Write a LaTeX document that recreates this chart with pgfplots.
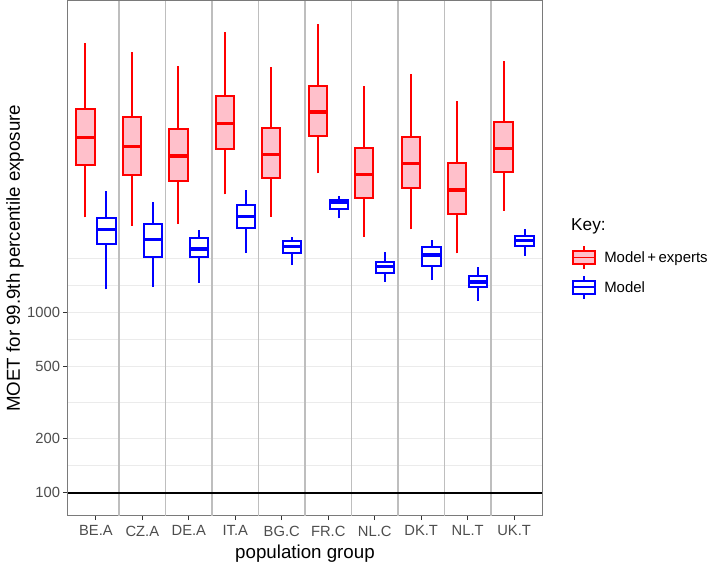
\documentclass[border=0pt]{standalone}
\usepackage{fontspec}
\setmainfont{Liberation Sans}
\usepackage{pgfplots}
\pgfplotsset{compat=1.18}
\definecolor{grey20}{HTML}{333333}
\definecolor{grey30}{HTML}{4D4D4D}
\definecolor{grey92}{HTML}{EBEBEB}
\definecolor{vgrey}{HTML}{BEBEBE}
\definecolor{border}{HTML}{7A7A7A}
\definecolor{pinkc}{HTML}{FFC0CB}
\pgfplotsset{
  whisk/.style={forget plot, line width=2bp, unbounded coords=jump, mark=none},
  rbox/.style={forget plot, draw=red, fill=pinkc, line width=2bp, mark=none, line join=miter},
  bbox/.style={forget plot, draw=blue, fill=white, line width=2bp, mark=none, line join=miter},
  med/.style={forget plot, line width=3.2bp, unbounded coords=jump, mark=none},
  keyglyph/.style={legend image code/.code={
     \draw[##1, line width=1.8bp] (0bp,-6.5bp) rectangle (22bp,6.5bp);
     \draw[##1, line width=1.8bp] (0bp,0bp) -- (22bp,0bp);
     \draw[##1, line width=1.8bp] (11bp,6.5bp) -- (11bp,11.5bp) (11bp,-6.5bp) -- (11bp,-11.5bp);
  }},
}
\begin{document}
\begin{tikzpicture}
\useasboundingbox (-68bp,-46.3bp) rectangle (641bp,515.7bp);
\begin{axis}[
  at={(0,0)}, anchor=south west,
  scale only axis, width=474bp, height=514.7bp,
  xmin=0.4, xmax=10.6,
  ymode=log, ymin=74.6, ymax=53170,
  xtick={1,2,3,4,5,6,7,8,9,10},
  xticklabels={BE.A,CZ.A,DE.A,IT.A,BG.C,FR.C,NL.C,DK.T,NL.T,UK.T},
  ytick={100,200,500,1000},
  yticklabels={100,200,500,1000},
  minor ytick={141.42,316.23,707.11,1414.2,2000},
  ymajorgrids, yminorgrids,
  major grid style={color=grey92, line width=1.1bp},
  minor grid style={color=grey92, line width=0.6bp},
  minor tick length=0pt,
  extra x ticks={1.5,2.5,3.5,4.5,5.5,6.5,7.5,8.5,9.5},
  extra x tick labels={},
  extra x tick style={grid=major, major grid style={color=vgrey, line width=1.5bp}, major tick length=0pt},
  xtick pos=left, ytick pos=left,
  tick align=outside,
  major tick length=4.5bp,
  tick style={color=grey20, line width=1bp},
  axis line style={color=border, line width=1bp},
  tick label style={font=\fontsize{14.8}{17}\selectfont, text=grey30},
  xticklabel style={yshift=-2bp},
  xlabel={population group},
  ylabel={MOET for 99.9th percentile exposure},
  label style={font=\fontsize{18.8}{22}\selectfont, text=black},
  xlabel style={at={(axis description cs:0.5,-0.0822)}, anchor=base},
  ylabel style={at={(axis description cs:-0.1013,0.5)}, anchor=base},
  legend style={draw=none, fill=none, at={(axis description cs:1.0639,0.526)}, anchor=north west,
    inner sep=0pt, font=\fontsize{15}{17}\selectfont, row sep=5bp,
    /tikz/every odd column/.append style={column sep=6bp}},
  legend cell align=left,
  clip=false,
]
\addplot[black, line width=1.8bp, forget plot] coordinates {(0.4,100) (10.6,100)};
% ---- Model + experts (red): whiskers
\addplot[whisk, red] coordinates {
 (0.775,3362)(0.775,30980)(0.775,nan)
 (1.775,3020)(1.775,27830)(1.775,nan)
 (2.775,3086)(2.775,23190)(2.775,nan)
 (3.775,4509)(3.775,35650)(3.775,nan)
 (4.775,3388)(4.775,22980)(4.775,nan)
 (5.775,5896)(5.775,39490)(5.775,nan)
 (6.775,2625)(6.775,17890)(6.775,nan)
 (7.775,2885)(7.775,20860)(7.775,nan)
 (8.775,2124)(8.775,14840)(8.775,nan)
 (9.775,3657)(9.775,24810)};
% boxes (Q1 to Q3)
\addplot[rbox] coordinates {(0.5775,6530)(0.9725,6530)(0.9725,13450)(0.5775,13450)} -- cycle;
\addplot[rbox] coordinates {(1.5775,5770)(1.9725,5770)(1.9725,12050)(1.5775,12050)} -- cycle;
\addplot[rbox] coordinates {(2.5775,5323)(2.9725,5323)(2.9725,10420)(2.5775,10420)} -- cycle;
\addplot[rbox] coordinates {(3.5775,8009)(3.9725,8009)(3.9725,15810)(3.5775,15810)} -- cycle;
\addplot[rbox] coordinates {(4.5775,5531)(4.9725,5531)(4.9725,10470)(4.5775,10470)} -- cycle;
\addplot[rbox] coordinates {(5.5775,9526)(5.9725,9526)(5.9725,17970)(5.5775,17970)} -- cycle;
\addplot[rbox] coordinates {(6.5775,4285)(6.9725,4285)(6.9725,8111)(6.5775,8111)} -- cycle;
\addplot[rbox] coordinates {(7.5775,4869)(7.9725,4869)(7.9725,9406)(7.5775,9406)} -- cycle;
\addplot[rbox] coordinates {(8.5775,3521)(8.9725,3521)(8.9725,6697)(8.5775,6697)} -- cycle;
\addplot[rbox] coordinates {(9.5775,5972)(9.9725,5972)(9.9725,11300)(9.5775,11300)} -- cycle;
% medians
\addplot[med, red] coordinates {
 (0.5775,9285)(0.9725,9285)(0.9725,nan)
 (1.5775,8279)(1.9725,8279)(1.9725,nan)
 (2.5775,7352)(2.9725,7352)(2.9725,nan)
 (3.5775,11100)(3.9725,11100)(3.9725,nan)
 (4.5775,7513)(4.9725,7513)(4.9725,nan)
 (5.5775,12890)(5.9725,12890)(5.9725,nan)
 (6.5775,5821)(6.9725,5821)(6.9725,nan)
 (7.5775,6697)(7.9725,6697)(7.9725,nan)
 (8.5775,4764)(8.9725,4764)(8.9725,nan)
 (9.5775,8111)(9.9725,8111)};
% ---- Model (blue): whiskers
\addplot[whisk, blue] coordinates {
 (1.225,1341)(1.225,4703)(1.225,nan)
 (2.225,1381)(2.225,4088)(2.225,nan)
 (3.225,1459)(3.225,2871)(3.225,nan)
 (4.225,2140)(4.225,4764)(4.225,nan)
 (5.225,1829)(5.225,2604)(5.225,nan)
 (6.225,3320)(6.225,4413)(6.225,nan)
 (7.225,1478)(7.225,2168)(7.225,nan)
 (8.225,1510)(8.225,2516)(8.225,nan)
 (9.225,1155)(9.225,1776)(9.225,nan)
 (10.225,2059)(10.225,2885)};
\addplot[bbox] coordinates {(1.0275,2391)(1.4225,2391)(1.4225,3320)(1.0275,3320)} -- cycle;
\addplot[bbox] coordinates {(2.0275,2033)(2.4225,2033)(2.4225,3074)(2.0275,3074)} -- cycle;
\addplot[bbox] coordinates {(3.0275,2033)(3.4225,2033)(3.4225,2572)(3.0275,2572)} -- cycle;
\addplot[bbox] coordinates {(4.0275,2944)(4.4225,2944)(4.4225,3919)(4.0275,3919)} -- cycle;
\addplot[bbox] coordinates {(5.0275,2140)(5.4225,2140)(5.4225,2494)(5.0275,2494)} -- cycle;
\addplot[bbox] coordinates {(6.0275,3737)(6.4225,3737)(6.4225,4210)(6.0275,4210)} -- cycle;
\addplot[bbox] coordinates {(7.0275,1658)(7.4225,1658)(7.4225,1893)(7.0275,1893)} -- cycle;
\addplot[bbox] coordinates {(8.0275,1813)(8.4225,1813)(8.4225,2293)(8.0275,2293)} -- cycle;
\addplot[bbox] coordinates {(9.0275,1387)(9.4225,1387)(9.4225,1583)(9.0275,1583)} -- cycle;
\addplot[bbox] coordinates {(10.0275,2340)(10.4225,2340)(10.4225,2659)(10.0275,2659)} -- cycle;
\addplot[med, blue] coordinates {
 (1.0275,2871)(1.4225,2871)(1.4225,nan)
 (2.0275,2539)(2.4225,2539)(2.4225,nan)
 (3.0275,2243)(3.4225,2243)(3.4225,nan)
 (4.0275,3388)(4.4225,3388)(4.4225,nan)
 (5.0275,2310)(5.4225,2310)(5.4225,nan)
 (6.0275,4051)(6.4225,4051)(6.4225,nan)
 (7.0275,1789)(7.4225,1789)(7.4225,nan)
 (8.0275,2078)(8.4225,2078)(8.4225,nan)
 (9.0275,1472)(9.4225,1472)(9.4225,nan)
 (10.0275,2494)(10.4225,2494)};
% legend
\addlegendimage{keyglyph, draw=red, fill=pinkc}
\addlegendentry{Model\,+\,experts}
\addlegendimage{keyglyph, draw=blue, fill=white}
\addlegendentry{Model}
\node[anchor=base west, font=\fontsize{17.3}{20}\selectfont, inner sep=0pt] at (axis description cs:1.0612,0.5537) {Key:};
\end{axis}
\end{tikzpicture}
\end{document}
